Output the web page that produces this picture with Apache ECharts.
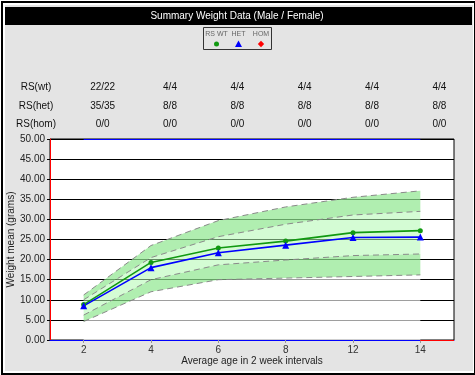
<!DOCTYPE html>
<html>
<head>
<meta charset="utf-8">
<script src="https://cdn.jsdelivr.net/npm/echarts@6/dist/echarts.min.js"></script>
<style>
  html, body { margin: 0; padding: 0; background: #fff; }
  #frame { position: absolute; left: 1px; top: 1px; width: 474px; height: 374px; box-sizing: border-box;
           border: 2px solid #000; border-right-width: 1px; background: #fff; padding: 2px 1px 2px 2px; }
  #inner { width: 100%; height: 100%; background: #e4e4e4; }
  #chart { position: absolute; left: 0; top: 0; width: 475px; height: 375px; }
</style>
</head>
<body>
<div id="frame"><div id="inner"></div></div>
<div id="chart"></div>
<script>
// ---- data ----
var titleText = 'Summary Weight Data (Male / Female)';
var categories = ['2', '4', '6', '8', '12', '14'];
var wtMeans  = [8.8, 19.3, 22.9, 24.6, 26.7, 27.2];
var hetMeans = [8.5, 18.0, 21.7, 23.6, 25.5, 25.6];
var homMeans = [];
var outerLower = [4.6, 12.0, 15.0, 15.4, 15.8, 16.2];
var innerLower = [6.2, 15.0, 18.7, 19.9, 21.0, 21.4];
var innerUpper = [10.0, 20.5, 25.7, 28.8, 31.1, 32.0];
var outerUpper = [11.2, 23.5, 29.7, 33.1, 35.5, 37.1];
var legendNames = ['RS WT', 'HET', 'HOM'];
var rowLabels = ['RS(wt)', 'RS(het)', 'RS(hom)'];
var rsWt  = ['22/22', '4/4', '4/4', '4/4', '4/4', '4/4'];
var rsHet = ['35/35', '8/8', '8/8', '8/8', '8/8', '8/8'];
var rsHom = ['0/0', '0/0', '0/0', '0/0', '0/0', '0/0'];
var yTicks = { min: 0, max: 50, interval: 5 };

// ---- chart ----
var FONT = '"Liberation Sans", Arial, sans-serif';
var GRID = { left: 50, right: 21, top: 139, bottom: 35 };
function diff(a, b) { return a.map(function (v, i) { return +(v - b[i]).toFixed(3); }); }
var dashed = { color: '#8a8a8a', width: 1, type: [6, 4] };
var darkBand = 'rgba(143,231,143,0.7)';
var lightBand = 'rgba(177,250,177,0.55)';

var chart = echarts.init(document.getElementById('chart'), null, { renderer: 'canvas' });
chart.setOption({
  backgroundColor: 'transparent',
  animation: false,
  grid: { left: GRID.left, right: GRID.right, top: GRID.top, bottom: GRID.bottom,
          containLabel: false, outerBoundsMode: 'none',
          show: true, backgroundColor: '#fff', borderColor: '#000', borderWidth: 1 },
  xAxis: {
    type: 'category', data: categories, boundaryGap: true, z: 5,
    axisLine: { show: true, lineStyle: { color: '#0000ff', width: 1 } },
    axisTick: { show: true, alignWithLabel: true, length: 3, lineStyle: { color: '#999' } },
    axisLabel: { color: '#333', fontFamily: FONT, fontSize: 10, margin: 5 },
    splitLine: { show: false },
    name: 'Average age in 2 week intervals', nameLocation: 'middle', nameGap: 16, nameMoveOverlap: false,
    nameTextStyle: { color: '#222', fontFamily: FONT, fontSize: 10 }
  },
  yAxis: {
    type: 'value', min: yTicks.min, max: yTicks.max, interval: yTicks.interval,
    axisLine: { show: true, lineStyle: { color: '#ff0000', width: 1 } },
    axisTick: { show: true, length: 3, lineStyle: { color: '#000' } },
    axisLabel: { color: '#222', fontFamily: FONT, fontSize: 10, margin: 5,
                 formatter: function (v) { return v.toFixed(2); } },
    splitLine: { show: true, lineStyle: { color: '#000', width: 1 } },
    name: 'Weight mean (grams)', nameLocation: 'middle', nameGap: 34, nameRotate: 90, nameMoveOverlap: false,
    nameTextStyle: { color: '#222', fontFamily: FONT, fontSize: 10 }
  },
  series: [
    { name: 'base', type: 'line', stack: 'band', data: outerLower, symbol: 'none', silent: true,
      lineStyle: dashed, areaStyle: { color: 'rgba(255,255,255,0.62)', opacity: 1 } },
    { name: 'lowOuter', type: 'line', stack: 'band', data: diff(innerLower, outerLower), symbol: 'none', silent: true,
      lineStyle: dashed, areaStyle: { color: darkBand, opacity: 1 } },
    { name: 'inner', type: 'line', stack: 'band', data: diff(innerUpper, innerLower), symbol: 'none', silent: true,
      lineStyle: dashed, areaStyle: { color: lightBand, opacity: 1 } },
    { name: 'upOuter', type: 'line', stack: 'band', data: diff(outerUpper, innerUpper), symbol: 'none', silent: true,
      lineStyle: dashed, areaStyle: { color: darkBand, opacity: 1 } },
    { name: legendNames[0], type: 'line', data: wtMeans, z: 4, symbol: 'circle', symbolSize: 5,
      itemStyle: { color: '#119911' }, lineStyle: { color: '#119911', width: 1.6 } },
    { name: legendNames[1], type: 'line', data: hetMeans, z: 4, symbol: 'triangle', symbolSize: 7,
      itemStyle: { color: '#0000ff' }, lineStyle: { color: '#0000ff', width: 1.6 } },
    { name: legendNames[2], type: 'line', data: homMeans, symbol: 'diamond',
      itemStyle: { color: '#ff0000' }, lineStyle: { color: '#ff0000' } }
  ]
});

// ---- decorations: title bar, legend box, RS table, coloured axis segments ----
var g = [];
g.push({ type: 'rect', shape: { x: 5, y: 7, width: 467, height: 18 }, style: { fill: '#000' } });
g.push({ type: 'text', x: 237, y: 16, style: { text: titleText, fill: '#fff', font: '10px ' + FONT,
         align: 'center', verticalAlign: 'middle' } });
// legend
g.push({ type: 'rect', shape: { x: 203.5, y: 27.5, width: 68, height: 22 },
         style: { fill: 'transparent', stroke: '#333', lineWidth: 1 } });
var legX = [216.5, 238.5, 261];
var legSym = [
  { type: 'circle', shape: { cx: 0, cy: 0, r: 2.5 }, style: { fill: '#119911' } },
  { type: 'polygon', shape: { points: [[0, -3.5], [3.5, 3], [-3.5, 3]] }, style: { fill: '#0000ff' } },
  { type: 'polygon', shape: { points: [[0, -3.2], [3.2, 0], [0, 3.2], [-3.2, 0]] }, style: { fill: '#ff0000' } }
];
legendNames.forEach(function (n, i) {
  g.push({ type: 'text', x: legX[i], y: 34, style: { text: n, fill: '#666', font: '7px ' + FONT,
           align: 'center', verticalAlign: 'middle' } });
  var s = legSym[i];
  s.x = legX[i]; s.y = 44;
  g.push(s);
});
// RS table
var rows = [rsWt, rsHet, rsHom];
var rowY = [87, 106, 124];
rows.forEach(function (row, r) {
  g.push({ type: 'text', x: 36, y: rowY[r], style: { text: rowLabels[r], fill: '#111', font: '10px ' + FONT,
           align: 'center', verticalAlign: 'middle' } });
  row.forEach(function (val, i) {
    var px = chart.convertToPixel({ xAxisIndex: 0 }, categories[i]) + 19;
    g.push({ type: 'text', x: px, y: rowY[r], style: { text: val, fill: '#111', font: '10px ' + FONT,
             align: 'center', verticalAlign: 'middle' } });
  });
});
var firstX = chart.convertToPixel({ xAxisIndex: 0 }, categories[0]);
var lastX = chart.convertToPixel({ xAxisIndex: 0 }, categories[categories.length - 1]);
var yBottom = chart.convertToPixel({ yAxisIndex: 0 }, yTicks.min);
var yTop = chart.convertToPixel({ yAxisIndex: 0 }, yTicks.max);
var rightEdge = 475 - GRID.right;
// red end of bottom axis (last category to plot edge)
g.push({ type: 'line', z: 100, shape: { x1: lastX, y1: yBottom + 0.5, x2: rightEdge, y2: yBottom + 0.5 },
         style: { stroke: '#ff0000', lineWidth: 1 } });
// blue segment of top border between first and last category
g.push({ type: 'line', z: 100, shape: { x1: firstX, y1: yTop + 0.5, x2: lastX, y2: yTop + 0.5 },
         style: { stroke: '#0000ff', lineWidth: 1 } });
chart.setOption({ graphic: g });
</script>
</body>
</html>
